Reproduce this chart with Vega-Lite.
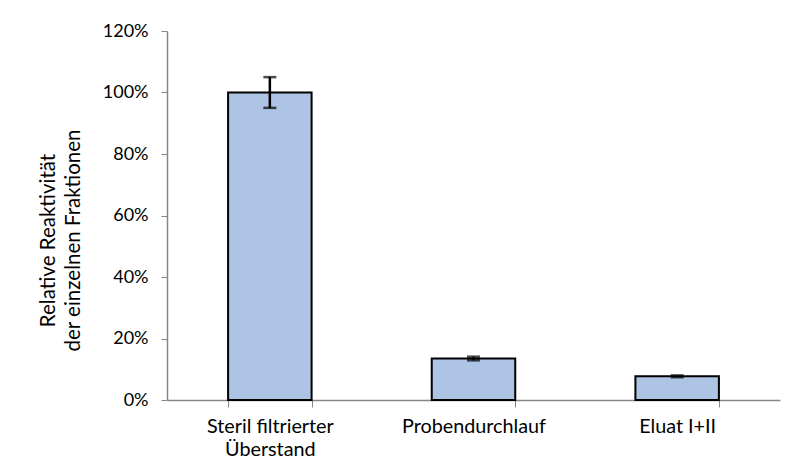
{
  "$schema": "https://vega.github.io/schema/vega-lite/v6.json",
  "width": 613,
  "height": 369,
  "autosize": {"type": "none"},
  "padding": {"left": 167, "top": 31, "right": 18, "bottom": 72},
  "background": "white",
  "config": {"view": {"stroke": null}, "font": "Lato"},
  "data": {"values": [
    {"fraktion": "Steril filtrierter Überstand", "wert": 1.0, "lo": 0.95, "hi": 1.05},
    {"fraktion": "Probendurchlauf", "wert": 0.135, "lo": 0.129, "hi": 0.141},
    {"fraktion": "Eluat I+II", "wert": 0.077, "lo": 0.074, "hi": 0.080}
  ]},
  "encoding": {
    "x": {"field": "fraktion", "type": "nominal", "sort": null,
      "scale": {"paddingInner": 0.59, "paddingOuter": 0.3},
      "axis": {"title": null, "labelAngle": 0, "labelFontSize": 19.8, "labelColor": "#000",
        "domainColor": "#868686", "domainWidth": 1.5, "tickColor": "#868686", "tickSize": 7, "tickBand": "extent",
        "labelPadding": 9, "labelLineHeight": 23,
        "labelExpr": "datum.label == 'Steril filtrierter Überstand' ? ['Steril filtrierter', 'Überstand'] : datum.label"}}
  },
  "layer": [
    {"mark": {"type": "bar", "fill": "#adc4e5", "stroke": "#000", "strokeWidth": 2},
     "encoding": {"y": {"field": "wert", "type": "quantitative",
       "scale": {"domain": [0, 1.2]},
       "axis": {"format": ".0%", "values": [0, 0.2, 0.4, 0.6, 0.8, 1.0, 1.2], "grid": false,
         "labelFontSize": 18, "labelColor": "#000", "labelPadding": 13,
         "domainColor": "#868686", "domainWidth": 1.5, "tickColor": "#868686", "tickSize": 6,
         "title": ["Relative Reaktivität", "der einzelnen Fraktionen"], "titleFontSize": 20.5,
         "titleFontWeight": "normal", "titleColor": "#000", "titlePadding": 19, "titleLineHeight": 25,
         "titleY": 209}}}},
    {"mark": {"type": "rule", "color": "#000", "strokeWidth": 2.5},
     "encoding": {"y": {"field": "lo", "type": "quantitative"}, "y2": {"field": "hi"}}},
    {"mark": {"type": "tick", "color": "#000", "thickness": 2.5, "size": 13},
     "encoding": {"y": {"field": "lo", "type": "quantitative"}}},
    {"mark": {"type": "tick", "color": "#000", "thickness": 2.5, "size": 13},
     "encoding": {"y": {"field": "hi", "type": "quantitative"}}}
  ]
}
